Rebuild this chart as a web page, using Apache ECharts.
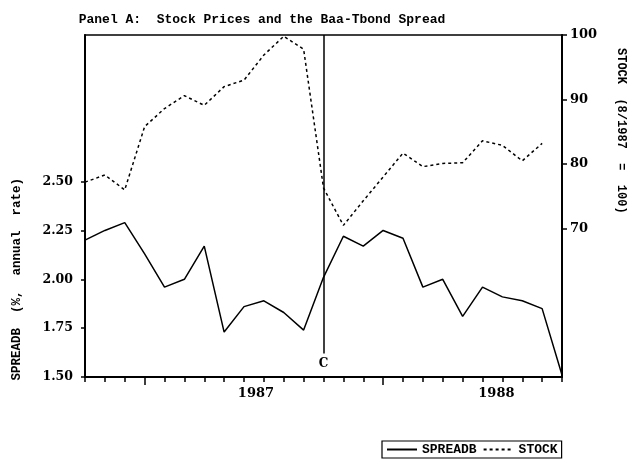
<!DOCTYPE html>
<html>
<head>
<meta charset="utf-8">
<script src="https://cdn.jsdelivr.net/npm/echarts@6/dist/echarts.min.js"></script>
<style>html,body{margin:0;padding:0;background:#fff;}#c{width:633px;height:463px;}</style>
</head>
<body>
<div id="c"></div>
<script>
const months = ['Oct86','Nov86','Dec86','Jan87','Feb87','Mar87','Apr87','May87','Jun87','Jul87','Aug87','Sep87',
  'Oct87','Nov87','Dec87','Jan88','Feb88','Mar88','Apr88','May88','Jun88','Jul88','Aug88','Sep88','Oct88'];
const spreadb = [2.20,2.25,2.29,2.13,1.96,2.00,2.17,1.73,1.86,1.89,1.83,1.74,
  2.01,2.22,2.17,2.25,2.21,1.96,2.00,1.81,1.96,1.91,1.89,1.85,1.51];
const stock = [77.2,78.3,76.0,85.8,88.6,90.6,89.1,92.0,93.0,96.9,99.8,97.8,
  76.3,70.5,74.3,78.0,81.7,79.6,80.1,80.2,83.6,82.9,80.5,83.2,null];
const leftTicks = [1.50,1.75,2.00,2.25,2.50];
const rightTicks = [70,80,90,100];
const yearLabels = ['1987','1988'];
const yearPos = [8.6, 20.7];
const yearStarts = [3, 15];
const crashMonth = 'Oct87';

const mono = 'Liberation Mono';
const serif = 'DejaVu Serif';
const chart = echarts.init(document.getElementById('c'));
chart.setOption({
  animation: false,
  backgroundColor: '#fff',
  title: {
    text: 'Panel A:  Stock Prices and the Baa-Tbond Spread',
    left: 257, top: 8, textAlign: 'center',
    textStyle: {fontFamily: mono, fontWeight: 'bold', fontSize: 13, color: '#000'}
  },
  legend: {
    left: 382, top: 441,
    data: ['SPREADB','STOCK'],
    itemWidth: 30, itemHeight: 10, itemGap: 6,
    itemStyle: {opacity: 0, borderWidth: 0},
    padding: [2,4,2,4],
    borderColor: '#000', borderWidth: 1.2,
    textStyle: {fontFamily: mono, fontWeight: 'bold', fontSize: 13, color: '#000'}
  },
  graphic: [
    {type:'text', left: 10, top: 178, rotation: Math.PI/2,
     style:{text:'SPREADB  (%,  annual  rate)', font:'bold 12.5px "Liberation Mono"', fill:'#000'}},
    {type:'text', left: 615, top: 48, rotation: -Math.PI/2,
     style:{text:'STOCK  (8/1987  =  100)', font:'bold 12px "Liberation Mono"', fill:'#000'}}
  ],
  grid: {left: 85, right: 71, top: 35, bottom: 86, show: true, borderColor: '#000', borderWidth: 1.5, backgroundColor: 'transparent'},
  xAxis: [
    {type: 'category', data: months, boundaryGap: false,
     axisLine: {lineStyle: {color: '#000', width: 2}},
     axisTick: {interval: 0, length: 5, lineStyle: {color: '#000', width: 1.5}},
     axisLabel: {show: false}, splitLine: {show: false}},
    {type: 'value', min: 0, max: months.length - 1, position: 'bottom',
     axisLine: {show: false},
     axisTick: {customValues: yearStarts, length: 8, lineStyle: {color: '#000', width: 1.5}},
     axisLabel: {customValues: yearPos, margin: 10,
       formatter: function(v){ const i = yearPos.indexOf(v); return i >= 0 ? yearLabels[i] : ''; },
       fontFamily: serif, fontWeight: 'bold', fontSize: 13, color: '#000'},
     splitLine: {show: false}}
  ],
  yAxis: [
    {type: 'value', min: 1.5, max: 3.25, position: 'left',
     axisLine: {show: true, lineStyle: {color: '#000', width: 2}},
     axisTick: {show: true, customValues: leftTicks, length: 4, lineStyle: {color: '#000', width: 1.5}},
     axisLabel: {customValues: leftTicks, formatter: v => v.toFixed(2), margin: 12,
       fontFamily: serif, fontWeight: 'bold', fontSize: 12.5, color: '#000'},
     splitLine: {show: false}},
    {type: 'value', min: 47, max: 100, position: 'right',
     axisLine: {show: true, lineStyle: {color: '#000', width: 2}},
     axisTick: {show: true, customValues: rightTicks, length: 5, lineStyle: {color: '#000', width: 1.5}},
     axisLabel: {customValues: rightTicks, margin: 8,
       fontFamily: serif, fontWeight: 'bold', fontSize: 13, color: '#000'},
     splitLine: {show: false}}
  ],
  series: [
    {name: 'SPREADB', type: 'line', data: spreadb, xAxisIndex: 0, yAxisIndex: 0,
     symbol: 'none', lineStyle: {color: '#000', width: 1.5}, itemStyle: {color: '#000'},
     markLine: {silent: true, symbol: 'none',
       lineStyle: {color: '#000', width: 1.5, type: 'solid'},
       label: {show: true, position: 'start', formatter: 'C', distance: 4,
         fontFamily: serif, fontWeight: 'bold', fontSize: 12, color: '#000'},
       data: [[{coord: [crashMonth, 1.62]}, {coord: [crashMonth, 3.25]}]]}},
    {name: 'STOCK', type: 'line', data: stock, xAxisIndex: 0, yAxisIndex: 1,
     symbol: 'none', lineStyle: {color: '#000', width: 1.5, type: [3,3]}, itemStyle: {color: '#000'}}
  ]
});
</script>
</body>
</html>
